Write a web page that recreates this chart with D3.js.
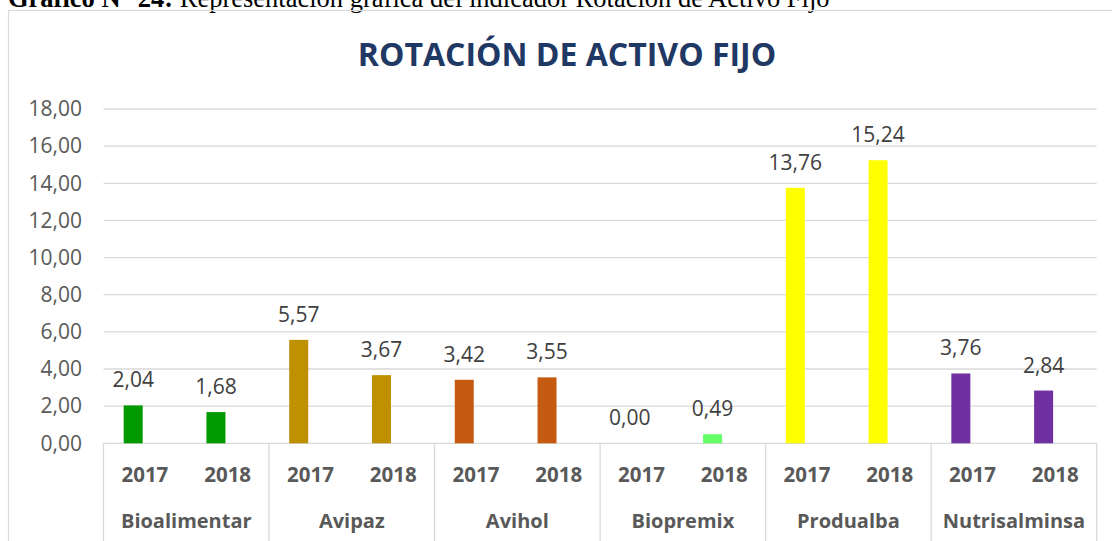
<!DOCTYPE html>
<html>
<head>
<meta charset="utf-8">
<script src="https://cdn.jsdelivr.net/npm/d3@7"></script>
<style>
  body { margin: 0; background: #fff; }
  svg { display: block; }
</style>
</head>
<body>
<script>
var width = 1112;
var height = 541;

var companies = ['Bioalimentar', 'Avipaz', 'Avihol', 'Biopremix', 'Produalba', 'Nutrisalminsa'];
var years = ['2017', '2018'];
var values2017 = [2.04, 5.57, 3.42, 0.00, 13.76, 3.76];
var values2018 = [1.68, 3.67, 3.55, 0.49, 15.24, 2.84];
var colors = ['#009900', '#bf9000', '#c55a11', '#66ff66', '#ffff00', '#7030a0'];
var yTicks = [0, 2, 4, 6, 8, 10, 12, 14, 16, 18];

var fmt = function(v) { return v.toFixed(2).replace('.', ','); };

var svg = d3.select('body').append('svg')
  .attr('width', width)
  .attr('height', height);

// caption above the chart box (cut by the top edge, as in the source)
var cap = svg.append('text')
  .attr('x', 8)
  .attr('y', 7)
  .attr('font-family', '"Liberation Serif", "Times New Roman", serif')
  .attr('font-size', 26.5)
  .attr('fill', '#000');
cap.append('tspan').attr('font-weight', 'bold').text('Gráfico N° 24:');
cap.append('tspan').text(' Representación gráfica del indicador Rotación de Activo Fijo');

// chart frame
svg.append('rect')
  .attr('x', 8.5)
  .attr('y', 10.5)
  .attr('width', 1120)
  .attr('height', 560)
  .attr('fill', 'none')
  .attr('stroke', '#d9d9d9')
  .attr('stroke-width', 1.2);

svg.append('text')
  .attr('x', 567)
  .attr('y', 66)
  .attr('text-anchor', 'middle')
  .attr('font-family', '"Open Sans", sans-serif')
  .attr('font-weight', 'bold')
  .attr('font-size', 32)
  .attr('fill', '#1f3864')
  .text('ROTACIÓN DE ACTIVO FIJO');

var x = d3.scaleBand()
  .domain(companies)
  .range([103.5, 1096.7])
  .paddingInner(0)
  .paddingOuter(0);

var xYear = d3.scaleBand()
  .domain(years)
  .range([0, x.bandwidth()]);

var y = d3.scaleLinear()
  .domain([0, 18])
  .range([443.3, 109]);

// gridlines
svg.append('g')
  .selectAll('line')
  .data(yTicks)
  .enter().append('line')
  .attr('x1', x.range()[0])
  .attr('x2', x.range()[1])
  .attr('y1', function(d) { return y(d); })
  .attr('y2', function(d) { return y(d); })
  .attr('stroke', '#d9d9d9')
  .attr('stroke-width', 1.3);

// y axis labels
var yAxis = d3.axisLeft(y)
  .tickValues(yTicks)
  .tickFormat(fmt)
  .tickSize(0)
  .tickPadding(0);

var gy = svg.append('g')
  .attr('transform', 'translate(82,0)')
  .call(yAxis);
gy.select('.domain').remove();
gy.selectAll('text')
  .attr('font-family', '"Open Sans", sans-serif')
  .attr('font-size', 21)
  .attr('fill', '#595959');

// bars
var rows = [];
companies.forEach(function(c, i) {
  rows.push({ company: c, year: '2017', value: values2017[i], color: colors[i] });
  rows.push({ company: c, year: '2018', value: values2018[i], color: colors[i] });
});

var barW = 19;
var barShift = -11.7;
var center = function(d) {
  return x(d.company) + xYear(d.year) + xYear.bandwidth() / 2 + barShift;
};

svg.append('g')
  .selectAll('rect')
  .data(rows)
  .enter().append('rect')
  .attr('x', function(d) { return center(d) - barW / 2; })
  .attr('y', function(d) { return y(d.value); })
  .attr('width', barW)
  .attr('height', function(d) { return y(0) - y(d.value); })
  .attr('fill', function(d) { return d.color; });

svg.append('g')
  .selectAll('text')
  .data(rows)
  .enter().append('text')
  .attr('x', center)
  .attr('y', function(d) { return y(d.value) - 18; })
  .attr('text-anchor', 'middle')
  .attr('font-family', '"Open Sans", sans-serif')
  .attr('font-size', 21)
  .attr('fill', '#404040')
  .text(function(d) { return fmt(d.value); });

// category axis: group separators
var edges = companies.map(function(c) { return x(c); }).concat([x.range()[1]]);
svg.append('g')
  .selectAll('line')
  .data(edges)
  .enter().append('line')
  .attr('x1', function(d) { return d; })
  .attr('x2', function(d) { return d; })
  .attr('y1', y(0))
  .attr('y2', height)
  .attr('stroke', '#d9d9d9')
  .attr('stroke-width', 1.3);

svg.append('g')
  .selectAll('text')
  .data(rows)
  .enter().append('text')
  .attr('x', function(d) { return x(d.company) + xYear(d.year) + xYear.bandwidth() / 2; })
  .attr('y', 481.7)
  .attr('text-anchor', 'middle')
  .attr('font-family', '"Open Sans", sans-serif')
  .attr('font-weight', 'bold')
  .attr('font-size', 20.5)
  .attr('fill', '#595959')
  .text(function(d) { return d.year; });

svg.append('g')
  .selectAll('text')
  .data(companies)
  .enter().append('text')
  .attr('x', function(d) { return x(d) + x.bandwidth() / 2; })
  .attr('y', 528)
  .attr('text-anchor', 'middle')
  .attr('font-family', '"Open Sans", sans-serif')
  .attr('font-weight', 'bold')
  .attr('font-size', 20)
  .attr('fill', '#595959')
  .text(function(d) { return d; });
</script>
</body>
</html>
